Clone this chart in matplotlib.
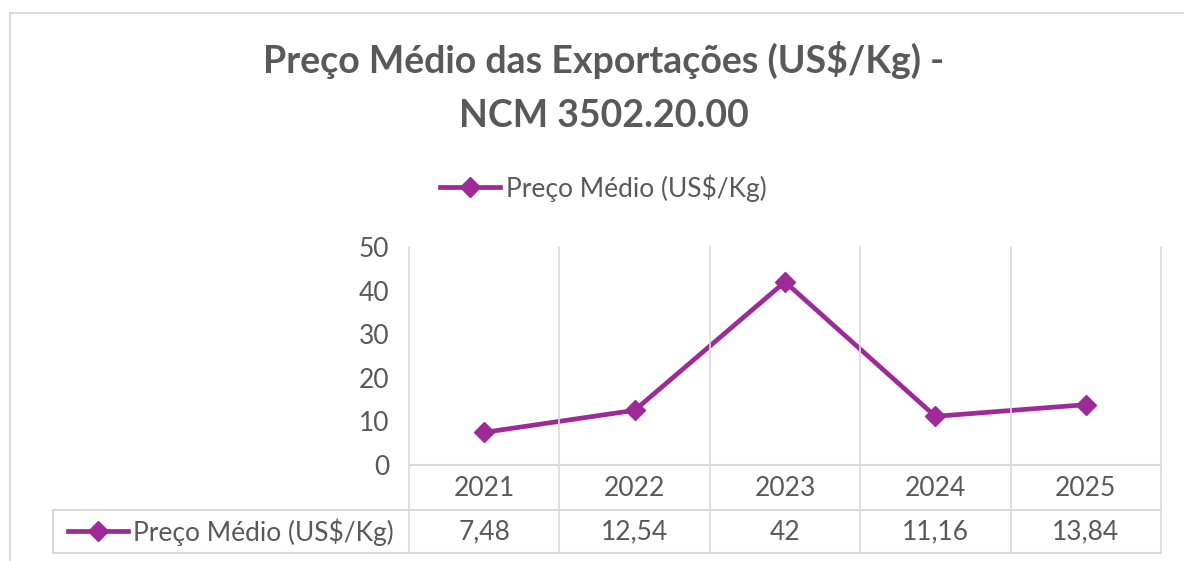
import matplotlib.pyplot as plt
from matplotlib.lines import Line2D
from matplotlib.transforms import blended_transform_factory

years = ["2021", "2022", "2023", "2024", "2025"]
preco_medio = [7.48, 12.54, 42, 11.16, 13.84]
preco_labels = ["7,48", "12,54", "42", "11,16", "13,84"]
yticks = [0, 10, 20, 30, 40, 50]

title = "Preço Médio das Exportações (US$/Kg) -\nNCM 3502.20.00"
series_name = "Preço Médio (US$/Kg)"

PURPLE = "#9E2A98"
TEXT = "#595959"
GRID = "#D9D9D9"

plt.rcParams["font.family"] = ["Lato", "DejaVu Sans"]

W, H = 1184, 561
fig = plt.figure(figsize=(W / 100, H / 100), dpi=100)


def fy(py):
    # pixel row from the top -> figure fraction
    return 1 - py / H


# chart frame (light gray, top and left visible)
fig.add_artist(Line2D([10 / W, 1], [fy(13), fy(13)], color=GRID, lw=1.5))
fig.add_artist(Line2D([10 / W, 10 / W], [0, fy(13)], color=GRID, lw=1.5))

x0, x1 = 409, 1161
y_top, y_axis = 247, 465
row1, row2 = 510, 553
ax = fig.add_axes([x0 / W, fy(y_axis), (x1 - x0) / W, (y_axis - y_top) / H])

n = len(years)
xs = list(range(n))
ax.plot(xs, preco_medio, color=PURPLE, lw=3.4, marker="D", ms=10,
        markerfacecolor=PURPLE, markeredgecolor=PURPLE)
ax.set_xlim(-0.5, n - 0.5)
ax.set_ylim(0, 50)
ax.set_yticks(yticks)
ax.set_yticklabels([str(v) for v in yticks], fontsize=19, color=TEXT)
ax.tick_params(axis="y", length=0, pad=14)
ax.set_xticks([])
for s in ax.spines.values():
    s.set_visible(False)
ax.patch.set_alpha(0)

# vertical gridlines at category boundaries, running down through the data table
trans = blended_transform_factory(ax.transData, fig.transFigure)
for b in [i - 0.5 for i in range(n + 1)]:
    fig.add_artist(Line2D([b, b], [fy(y_top), fy(row2)], transform=trans,
                          color=GRID, lw=1.2))

# horizontal table lines
fig.add_artist(Line2D([x0 / W, x1 / W], [fy(y_axis), fy(y_axis)], color=GRID, lw=1.5))
fig.add_artist(Line2D([53 / W, x1 / W], [fy(row1), fy(row1)], color=GRID, lw=1.5))
fig.add_artist(Line2D([53 / W, x1 / W], [fy(row2), fy(row2)], color=GRID, lw=1.5))
fig.add_artist(Line2D([53 / W, 53 / W], [fy(row1), fy(row2)], color=GRID, lw=1.5))

# table text
for i in range(n):
    fig.text(i, fy(488), years[i], transform=trans, fontsize=19, color=TEXT,
             ha="center", va="center")
    fig.text(i, fy(532), preco_labels[i], transform=trans, fontsize=19, color=TEXT,
             ha="center", va="center")

# legend key in table
fig.add_artist(Line2D([68 / W, 128 / W], [fy(531), fy(531)], color=PURPLE, lw=3.4))
fig.add_artist(Line2D([98 / W], [fy(531)], color=PURPLE, marker="D", ms=10, lw=0))
fig.text(133 / W, fy(532), series_name, fontsize=19, color=TEXT, ha="left", va="center")

# top legend
fig.add_artist(Line2D([440 / W, 500 / W], [fy(187), fy(187)], color=PURPLE, lw=3.4))
fig.add_artist(Line2D([470 / W], [fy(187)], color=PURPLE, marker="D", ms=10, lw=0))
fig.text(506 / W, fy(188), series_name, fontsize=19, color=TEXT, ha="left", va="center")

# title
fig.text(0.5 * (258 + 950) / W, fy(87), title, fontsize=27, fontweight="bold",
         color=TEXT, ha="center", va="center", linespacing=1.7)

fig.savefig("out.png", dpi=100)
